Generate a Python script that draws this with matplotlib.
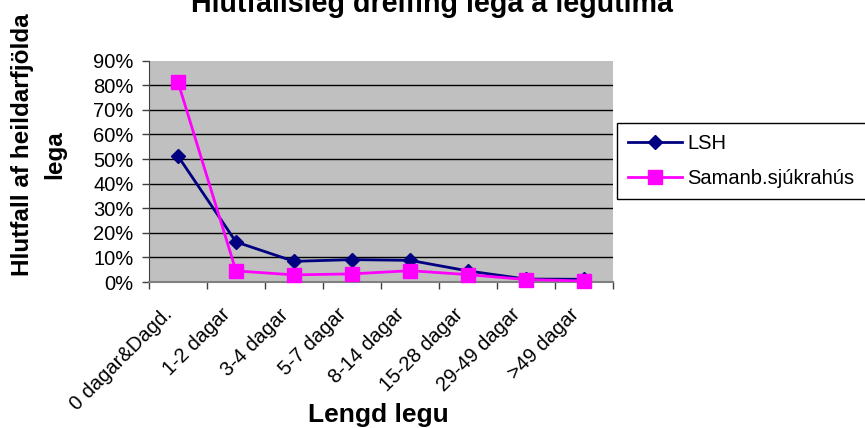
import matplotlib
matplotlib.use("Agg")
import matplotlib.pyplot as plt
from matplotlib.transforms import ScaledTranslation
from matplotlib.ticker import FixedLocator, PercentFormatter

plt.rcParams['font.family'] = ['Liberation Sans', 'DejaVu Sans']

categories = ['0 dagar&Dagd.', '1-2 dagar', '3-4 dagar', '5-7 dagar',
              '8-14 dagar', '15-28 dagar', '29-49 dagar', '>49 dagar']
lsh = [0.512, 0.163, 0.084, 0.091, 0.088, 0.045, 0.012, 0.011]
samanb = [0.813, 0.045, 0.029, 0.033, 0.046, 0.030, 0.010, 0.004]
yticks = [0.0, 0.1, 0.2, 0.3, 0.4, 0.5, 0.6, 0.7, 0.8, 0.9]

W, H = 865, 428
fig = plt.figure(figsize=(W / 100, H / 100), dpi=100)
ax = fig.add_axes([149 / W, 1 - 282 / H, (613 - 149) / W, (282 - 60.7) / H])
ax.set_facecolor('#C0C0C0')

x = list(range(len(categories)))
ax.plot(x, lsh, color='#000080', lw=2, marker='D', ms=7.5,
        markerfacecolor='#000080', markeredgecolor='#000080', label='LSH', zorder=3)
ax.plot(x, samanb, color='#FF00FF', lw=2, marker='s', ms=10,
        markerfacecolor='#FF00FF', markeredgecolor='#FF00FF',
        label='Samanb.sjúkrahús', zorder=4, clip_on=False)

ax.set_xlim(-0.5, len(categories) - 0.5)
ax.set_ylim(0, 0.9)
ax.set_yticks(yticks)
ax.yaxis.set_major_formatter(PercentFormatter(1.0, decimals=0))
ax.yaxis.grid(True, color='black', lw=1)
ax.set_axisbelow(True)
gl = ax.yaxis.get_gridlines()
gl[-1].set_visible(False)
gl[0].set_visible(False)

ax.set_xticks(x)
ax.set_xticklabels(categories, rotation=45, ha='right', va='top',
                   rotation_mode='anchor', fontsize=14.5)
ax.xaxis.set_minor_locator(FixedLocator([i - 0.5 for i in range(len(categories) + 1)]))
ax.tick_params(axis='x', which='major', length=0, pad=16.5)
ax.tick_params(axis='x', which='minor', length=5, width=1, color='#404040')
ax.tick_params(axis='y', length=5, width=1, color='#404040', pad=6, labelsize=14.5)
off = ScaledTranslation(-0.15, 0, fig.dpi_scale_trans)
for lab in ax.get_xticklabels():
    lab.set_transform(lab.get_transform() + off)

for s in ['top', 'right']:
    ax.spines[s].set_visible(False)
ax.spines['left'].set_color('#404040')
ax.spines['bottom'].set_color('#808080')
ax.spines['bottom'].set_linewidth(1.5)

leg = fig.legend(loc='upper left', bbox_to_anchor=(617 / W, 1 - 123 / H),
                 frameon=True, fancybox=False, edgecolor='black', fontsize=14.5,
                 handlelength=2.7, handletextpad=0.25, labelspacing=0.8,
                 borderpad=0.55, borderaxespad=0)
leg.get_frame().set_linewidth(1)
leg.get_frame().set_alpha(1)

fig.text(432 / W, 1 - 12 / H, 'Hlutfallsleg dreifing lega á legutíma',
         ha='center', va='baseline', fontsize=20.6, fontweight='bold')
fig.text(378 / W, 1 - 422 / H, 'Lengd legu', ha='center', va='baseline',
         fontsize=19, fontweight='bold')
fig.text(23 / W, 1 - 145 / H, 'Hlutfall af heildarfjölda', ha='center', va='center',
         rotation=90, fontsize=17.5, fontweight='bold')
fig.text(55 / W, 1 - 155 / H, 'lega', ha='center', va='center',
         rotation=90, fontsize=17.5, fontweight='bold')

fig.savefig('out.png', dpi=100)
